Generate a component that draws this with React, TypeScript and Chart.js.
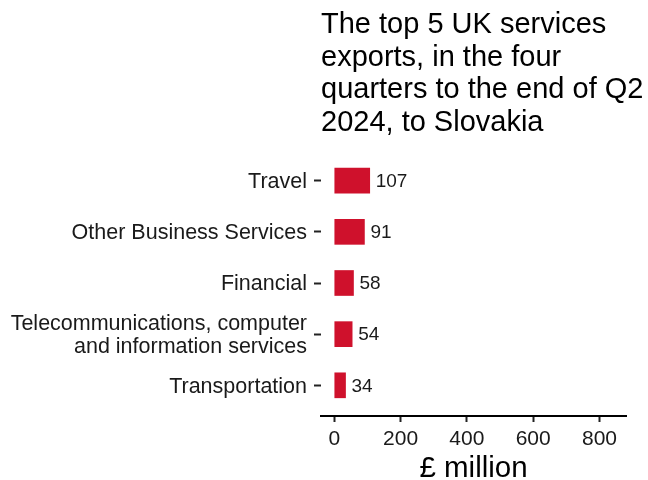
import { useEffect, useRef } from "react";
import { Chart, registerables, Plugin } from "chart.js";

Chart.register(...registerables);

const categories: (string | string[])[] = [
    "Travel",
    "Other Business Services",
    "Financial",
    ["Telecommunications, computer", "and information services"],
    "Transportation",
];
const values = [107, 91, 58, 54, 34];
const xTicks = [0, 200, 400, 600, 800];
const titleLines = [
    "The top 5 UK services",
    "exports, in the four",
    "quarters to the end of Q2",
    "2024, to Slovakia",
];

const FONT = "'Liberation Sans', Arial, sans-serif";

const titlePlugin: Plugin<"bar"> = {
    id: "leftTitle",
    afterDraw(chart) {
        const { ctx, chartArea } = chart;
        ctx.save();
        ctx.fillStyle = "#000000";
        ctx.font = `29px ${FONT}`;
        ctx.textAlign = "left";
        ctx.textBaseline = "alphabetic";
        titleLines.forEach((line, i) => {
            ctx.fillText(line, chartArea.left, 33 + i * 32.7);
        });
        ctx.restore();
    },
};

const valueLabels: Plugin<"bar"> = {
    id: "valueLabels",
    afterDatasetsDraw(chart) {
        const { ctx } = chart;
        const meta = chart.getDatasetMeta(0);
        ctx.save();
        ctx.fillStyle = "#1a1a1a";
        ctx.font = `19px ${FONT}`;
        ctx.textAlign = "left";
        ctx.textBaseline = "middle";
        meta.data.forEach((bar, i) => {
            ctx.fillText(String(values[i]), bar.x + 6, bar.y + 1);
        });
        ctx.restore();
    },
};

export default function App() {
    const chartRef = useRef<HTMLCanvasElement>(null);
    const chartInstance = useRef<Chart | null>(null);

    useEffect(() => {
        document.body.style.margin = "0";
        if (!chartRef.current) return;
        if (chartInstance.current) chartInstance.current.destroy();

        chartInstance.current = new Chart(chartRef.current, {
            type: "bar",
            data: {
                datasets: [
                    {
                        data: values.map((v, i) => ({ x: v, y: i })),
                        backgroundColor: "#cf112c",
                        borderWidth: 0,
                        barThickness: 25,
                    },
                ],
            },
            options: {
                indexAxis: "y",
                animation: false,
                responsive: false,
                layout: { padding: { top: 150, right: 22, left: 0, bottom: 0 } },
                plugins: {
                    legend: { display: false },
                    tooltip: { enabled: false },
                    title: { display: false },
                },
                scales: {
                    y: {
                        type: "linear",
                        reverse: true,
                        offset: false,
                        min: -0.6,
                        max: 4.6,
                        afterBuildTicks: (scale) => {
                            scale.ticks = categories.map((_, i) => ({ value: i }));
                        },
                        afterFit: (scale) => {
                            scale.width = 321;
                        },
                        border: { display: false },
                        grid: {
                            offset: false,
                            drawOnChartArea: false,
                            drawTicks: true,
                            tickLength: 7,
                            tickColor: "#222222",
                            tickWidth: 2,
                        },
                        ticks: {
                            padding: 7,
                            labelOffset: 1.5,
                            color: "#1a1a1a",
                            font: { family: FONT, size: 21.5, lineHeight: 1.06 },
                            callback: (v) => categories[Number(v)] ?? "",
                        },
                    },
                    x: {
                        type: "linear",
                        min: -40,
                        max: 880,
                        afterBuildTicks: (scale) => {
                            scale.ticks = xTicks.map((v) => ({ value: v }));
                        },
                        afterFit: (scale) => {
                            scale.height = 64;
                        },
                        border: { display: true, color: "#000000", width: 2 },
                        grid: {
                            drawOnChartArea: false,
                            drawTicks: true,
                            tickLength: 6,
                            tickColor: "#222222",
                            tickWidth: 2,
                        },
                        ticks: {
                            padding: 5,
                            color: "#1a1a1a",
                            maxRotation: 0,
                            font: { family: FONT, size: 21 },
                        },
                        title: {
                            display: true,
                            text: "£ million",
                            color: "#000000",
                            padding: { top: 0, bottom: -4 },
                            font: { family: FONT, size: 29.5, lineHeight: 1 },
                        },
                    },
                },
            },
            plugins: [titlePlugin, valueLabels],
        });

        return () => {
            if (chartInstance.current) {
                chartInstance.current.destroy();
                chartInstance.current = null;
            }
        };
    }, []);

    return (
        <div style={{ width: 648, height: 480 }}>
            <canvas ref={chartRef} width={648} height={480}></canvas>
        </div>
    );
}
